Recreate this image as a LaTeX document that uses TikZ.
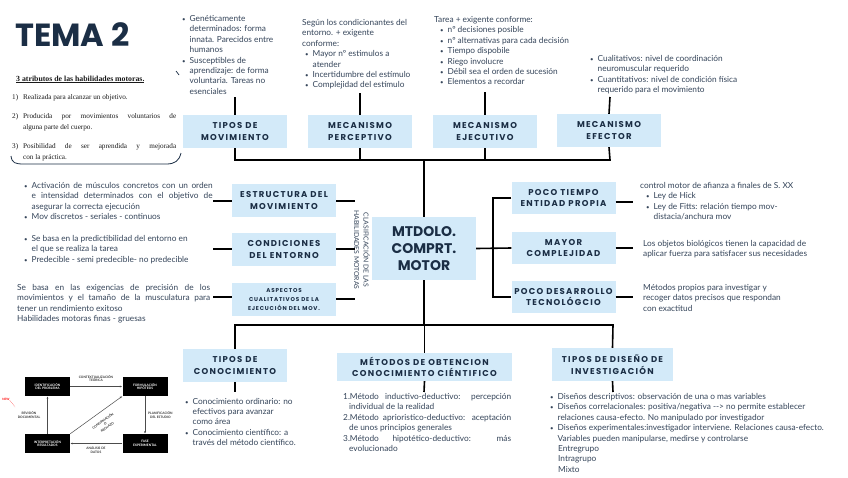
\documentclass[tikz,border=0pt]{standalone}
\usepackage{fontspec}
\setmainfont{Lato}
\newfontfamily\lblfont{Poppins}[LetterSpace=15]
\newfontfamily\ttlfont{Poppins}
\newfontfamily\serfont{Liberation Serif}
\usetikzlibrary{arrows.meta}
\definecolor{boxblue}{HTML}{D3EAF9}
\definecolor{navy}{HTML}{1B2E45}
\definecolor{bodytxt}{HTML}{35455A}
\newcommand{\bu}{\makebox[7.5pt][l]{{\fontsize{6}{6}\selectfont\textbullet}}}
\newcommand{\ind}{\hspace*{7.5pt}}
\newcommand{\jst}[2]{\makebox[#1][s]{#2}}
\begin{document}
\begin{tikzpicture}[x=1pt,y=-1pt,
  lbox/.style={fill=boxblue, minimum width=104pt, minimum height=33pt, inner sep=0pt, align=center,
    font=\lblfont\bfseries\fontsize{8.5}{11.5}\selectfont, text=navy},
  conn/.style={line width=1.6pt, black},
  body/.style={font=\fontsize{8.3}{10.4}\selectfont, text=bodytxt, align=left, inner sep=0pt, anchor=base west},
  nl/.style={yshift={-(#1-1)*10.4pt}},
  fbox/.style={fill=black, text=white, font=\fontsize{3.2}{3.8}\selectfont\bfseries, minimum width=45pt, minimum height=19pt, align=center, inner sep=0pt},
  flab/.style={font=\fontsize{3.2}{3.8}\selectfont\bfseries, text=black!80, align=center, inner sep=0pt},
  farr/.style={-{Latex[length=2.5pt,width=2pt]}, line width=0.5pt, black!70}
]
\useasboundingbox[fill=white] (0,0) rectangle (848,477);

% title
\node[anchor=base west, font=\ttlfont\bfseries\fontsize{32}{32}\selectfont, text=navy, inner sep=0pt] (tema) at (15,46) {TEMA 2};

% atributos
\node[anchor=base west, inner sep=0pt, font=\serfont\bfseries\fontsize{7.8}{9}\selectfont, text=black!90] (atr) at (16,81) {\underline{3 atributos de las habilidades motoras.}};
\node[anchor=base west, inner sep=0pt, font=\serfont\fontsize{7.2}{11}\selectfont, text=black!90, align=left] (i1) at (12,99) {\makebox[11pt][l]{1)}Realizada para alcanzar un objetivo.};
\node[anchor=base west, inner sep=0pt, font=\serfont\fontsize{7.2}{11}\selectfont, text=black!90, align=left, yshift=-11pt] (i2) at (12,118) {\makebox[11pt][l]{2)}\jst{153pt}{Producida por movimientos voluntarios de}\\\hspace*{11pt}alguna parte del cuerpo.};
\node[anchor=base west, inner sep=0pt, font=\serfont\fontsize{7.2}{11}\selectfont, text=black!90, align=left, yshift=-11pt] (i3) at (12,148) {\makebox[11pt][l]{3)}\jst{153pt}{Posibilidad de ser aprendida y mejorada}\\\hspace*{11pt}con la práctica.};
\draw[navy, line width=0.8pt] (11,156) .. controls (12,163) and (15,164) .. (24,164) -- (166,164) .. controls (175,164) and (179,161) .. (181,153);
\draw[navy, line width=0.7pt] (176,71) -- (179,75);

% top boxes
\node[lbox] (tm) at (235,131.5) {TIPOS DE\\MOVIMIENTO};
\node[lbox] (mp) at (360,131.5) {MECANISMO\\PERCEPTIVO};
\node[lbox] (me) at (485,131.5) {MECANISMO\\EJECUTIVO};
\node[lbox] (mf) at (609,130.5) {MECANISMO\\EFECTOR};

% center
\node[fill=boxblue, minimum width=104pt, minimum height=63pt, inner sep=0pt, align=center,
  font=\ttlfont\bfseries\fontsize{14}{17}\selectfont, text=navy] (mt) at (424,248.5) {MTDOLO.\\COMPRT.\\MOTOR};

% left boxes
\node[lbox] (em) at (284,200.5) {ESTRUCTURA DEL\\MOVIMIENTO};
\node[lbox] (ce) at (284,249.5) {CONDICIONES\\DEL ENTORNO};
\node[lbox, font=\lblfont\bfseries\fontsize{5.6}{9}\selectfont] (ac) at (284,299.5) {ASPECTOS\\CUALITATIVOS DE LA\\EJECUCIÓN DEL MOV.};

% right boxes
\node[lbox, minimum height=32pt] (pt) at (563.5,198) {POCO TIEMPO\\ENTIDAD PROPIA};
\node[lbox, minimum height=32pt] (mc) at (563.5,248) {MAYOR\\COMPLEJIDAD};
\node[lbox, minimum height=32pt] (pd) at (563.5,297) {POCO DESARROLLO\\TECNOLÓGCIO};

% bottom boxes
\node[lbox, minimum height=33pt] (tc) at (235,365.5) {TIPOS DE\\CONOCIMIENTO};
\node[lbox, minimum width=175pt, minimum height=28pt] (mo) at (424.5,367) {MÉTODOS DE OBTENCION\\CONOCIMIENTO CIÉNTIFICO};
\node[lbox, minimum width=121pt, minimum height=33pt] (td) at (612.5,364.5) {TIPOS DE DISEÑO DE\\INVESTIGACIÓN};

% classification text
\node[rotate=-90, font=\fontsize{6.8}{9.5}\selectfont, text=bodytxt, align=center, inner sep=0pt] (clas) at (362,250) {CLASIFICACIÓN DE LAS\\HABILIDADES MOTORAS};

% connectors top
\coordinate (top1) at (235,97);
\coordinate (top2) at (360,93);
\coordinate (top3) at (485,92);
\coordinate (top4) at (610,97);
\coordinate (hl) at (235,160);
\coordinate (hr) at (610,160);
\coordinate (hc) at (424,160);
\draw[conn] (top1) -- (tm.north);
\draw[conn] (top2) -- (mp.north);
\draw[conn] (top3) -- (me.north);
\draw[conn] (top4) -- (mf.north);
\draw[conn] (tm.south) -- (hl) -- (hr) -- (mf.south);
\draw[conn] (mp.south) -- (mp.south |- hl);
\draw[conn] (me.south) -- (me.south |- hl);
\draw[conn] (hc) -- (mt.north);

% connectors bottom
\coordinate (bl) at (235,325);
\coordinate (br) at (613,325);
\draw[conn] (mt.south) -- (424,325);
\draw[conn] (tc.north) -- (bl) -- (br) -- (td.north);
\draw[conn] (mo.north) -- (mo.north |- bl);
\coordinate (tcb) at (235,392);
\coordinate (mob) at (424,392);
\coordinate (tdb) at (613,392);
\draw[conn] (tc.south) -- (tcb);
\draw[conn] (mo.south) -- (mob);
\draw[conn] (td.south) -- (tdb);

% left connectors
\coordinate (l1) at (213,201);
\coordinate (l2) at (213,249);
\coordinate (l3) at (213,297);
\draw[conn] (l1) -- (em.west |- l1);
\draw[conn] (l2) -- (ce.west |- l2);
\draw[conn] (l3) -- (ac.west |- l3);
\coordinate (r1) at (355,201);
\coordinate (r2) at (355,249);
\coordinate (r3) at (355,299);
\draw[conn] (em.east |- r1) -- (r1);
\draw[conn] (ce.east |- r2) -- (r2);
\draw[conn] (ac.east |- r3) -- (r3);

% right bracket
\coordinate (bk1) at (493,198);
\coordinate (bk3) at (493,297);
\draw[conn] (mt.east) -- (mc.west);
\draw[conn] (pt.west) -- (bk1) -- (bk3) -- (pd.west);
\coordinate (q1) at (633,202);
\coordinate (q2) at (633,248);
\coordinate (q3) at (633,297);
\draw[conn] (pt.east |- q1) -- (q1);
\draw[conn] (mc.east |- q2) -- (q2);
\draw[conn] (pd.east |- q3) -- (q3);

% top texts
\node[body, nl=8] (ta) at (182,21.5) {\bu Genéticamente\\\ind determinados: forma\\\ind innata. Parecidos entre\\\ind humanos\\\bu Susceptibles de\\\ind aprendizaje: de forma\\\ind voluntaria. Tareas no\\\ind esenciales};
\node[body, nl=7] (tb) at (302,25.5) {Según los condicionantes del\\entorno. + exigente\\conforme:\\\hspace*{3pt}\bu Mayor nº estimulos a\\\hspace*{3pt}\ind atender\\\hspace*{3pt}\bu Incertidumbre del estímulo\\\hspace*{3pt}\bu Complejidad del estímulo};
\node[body, nl=7] (tcx) at (434,22.5) {Tarea + exigente conforme:\\\hspace*{6pt}\bu nº decisiones posible\\\hspace*{6pt}\bu nº alternativas para cada decisión\\\hspace*{6pt}\bu Tiempo dispobile\\\hspace*{6pt}\bu Riego involucre\\\hspace*{6pt}\bu Débil sea el orden de sucesión\\\hspace*{6pt}\bu Elementos a recordar};
\node[body, nl=4] (tdx) at (590,61.5) {\bu Cualitativos: nivel de coordinación\\\ind neuromuscular requerido\\\bu Cuantitativos: nivel de condición física\\\ind requerido para el movimiento};

% left texts
\node[body, nl=4] (le) at (24,188.5) {\bu\jst{181pt}{Activación de músculos concretos con un orden}\\\ind\jst{181pt}{e intensidad determinados con el objetivo de}\\\ind asegurar la correcta ejecución\\\bu Mov discretos - seriales - continuos};
\node[body, nl=3] (lf) at (24,241.5) {\bu Se basa en la predictibilidad del entorno en\\\ind el que se realiza la tarea\\\bu Predecible - semi predecible- no predecible};
\node[body, nl=4] (lg) at (17,290.5) {\jst{193pt}{Se basa en las exigencias de precisión de los}\\\jst{193pt}{movimientos y el tamaño de la musculatura para}\\tener un rendimiento exitoso\\Habilidades motoras finas - gruesas};

% right texts
\node[body, nl=4] (rh) at (640,188.5) {control motor de afianza a finales de S. XX\\\hspace*{6pt}\bu Ley de Hick\\\hspace*{6pt}\bu Ley de Fitts: relación tiempo mov-\\\hspace*{6pt}\ind distacia/anchura mov};
\node[body, nl=2] (ri) at (643,246.5) {Los objetos biológicos tienen la capacidad de\\aplicar fuerza para satisfacer sus necesidades};
\node[body, nl=3] (rj) at (643,290.5) {Métodos propios para investigar y\\recoger datos precisos que respondan\\con exactitud};

% bottom texts
\node[body, nl=5] (bk) at (185,404) {\bu Conocimiento ordinario: no\\\ind efectivos para avanzar\\\ind como área\\\bu Conocimiento científico: a\\\ind través del método científico.};
\node[body, nl=6] (bm) at (343,399.5) {\jst{168pt}{1.Método inductivo-deductivo: percepción}\\\hspace*{6pt}individual de la realidad\\\jst{168pt}{2.Método aprioristico-deductivo: aceptación}\\\hspace*{6pt}de unos principios generales\\\jst{168pt}{3.Método hipotético-deductivo: más}\\\hspace*{6pt}evolucionado};
\node[body, nl=8] (bn) at (550,399.5) {\bu Diseños descriptivos: observación de una o mas variables\\\bu Diseños correlacionales: positiva/negativa {-}{-}> no permite establecer\\\ind relaciones causa-efecto. No manipulado por investigador\\\bu Diseños experimentales:investigador interviene. Relaciones causa-efecto.\\\ind Variables pueden manipularse, medirse y controlarse\\\hspace*{8pt}Entregrupo\\\hspace*{8pt}Intragrupo\\\hspace*{8pt}Mixto};

% flowchart
\node[fbox] (idp) at (47.5,386.5) {IDENTIFICACIÓN\\DEL PROBLEMA};
\node[fbox] (fh) at (145,386.5) {FORMULACIÓN\\HIPÓTESIS};
\node[fbox] (ir) at (47.5,443.5) {INTERPRETACIÓN\\RESULTADOS};
\node[fbox] (fe) at (145,443.5) {FASE\\EXPERIMENTAL};
\draw[farr] (idp.east) -- (fh.west);
\draw[farr] (fh.south) -- (fe.north);
\draw[farr] (fe.west) -- (ir.east);
\draw[farr] (ir.north) -- (idp.south);
\draw[farr] (ir.north east) -- (fh.south west);
\node[flab] (l_ct) at (96,378.5) {CONTEXTUALIZACIÓN\\TEÓRICA};
\node[flab, anchor=west] (l_pe) at (148,415) {PLANIFICACIÓN\\DEL ESTUDIO};
\node[flab] (l_ad) at (96,450) {ANÁLISIS DE\\DATOS};
\node[flab] (l_rd) at (29,415) {REVISIÓN\\DOCUMENTAL};
\node[flab, rotate=35] (l_cr) at (105,424) {CONFIRMACIÓN\\O\\RECHAZO};
\node[font=\fontsize{3}{3.5}\selectfont\bfseries, text=red, inner sep=0pt] (newt) at (6,399) {NEW};
\coordinate (nd) at (15,407);
\draw[red, densely dotted, line width=0.4pt] (newt.south east) -- (nd);

\end{tikzpicture}
\end{document}
